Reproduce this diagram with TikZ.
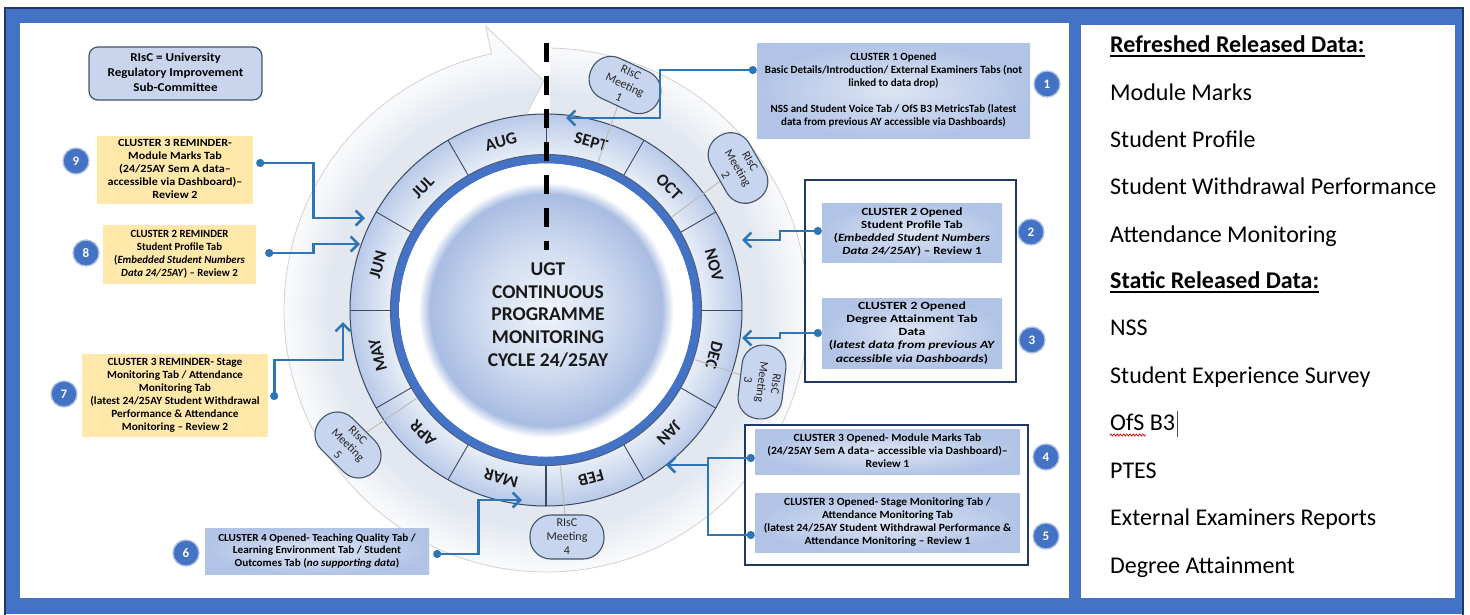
\documentclass[tikz,border=0pt]{standalone}
\usepackage{fontspec}
\setmainfont{Carlito}
\usepackage{graphicx}
\usetikzlibrary{arrows.meta,calc,decorations.pathmorphing}

\definecolor{frameblue}{HTML}{4472C4}
\definecolor{navy}{HTML}{203864}
\definecolor{connblue}{HTML}{2E75B6}
\definecolor{legfill}{HTML}{C9D5EC}
\definecolor{legdraw}{HTML}{44546A}
\definecolor{yel}{HTML}{FFE8AA}
\definecolor{boxin}{HTML}{DDE5F4}
\definecolor{boxout}{HTML}{B1C4E6}
\definecolor{pillfill}{HTML}{C8D5EE}
\definecolor{framenavy}{HTML}{1F3864}
\definecolor{bandA}{HTML}{E2E7F0}
\definecolor{bandB}{HTML}{F8F9FB}
\definecolor{ringA}{HTML}{EBF0F8}
\definecolor{ringB}{HTML}{B8C9E8}
\definecolor{discA}{HTML}{F1F4FA}
\definecolor{discM}{HTML}{D3DEF1}
\definecolor{discB}{HTML}{A9BDE2}
\definecolor{ringline}{HTML}{3B4A63}
\definecolor{mline}{HTML}{BDBDBD}

\pgfdeclareradialshading{bandsh}{\pgfpoint{0bp}{0bp}}{color(0bp)=(bandA); color(16.3bp)=(bandA); color(18bp)=(bandA); color(21.5bp)=(bandB); color(25bp)=(bandB); color(50bp)=(bandB)}
\pgfdeclareradialshading{ringsh}{\pgfpoint{0bp}{0bp}}{color(0bp)=(ringA); color(19.5bp)=(ringA); color(25bp)=(ringB); color(50bp)=(ringB)}
\pgfdeclareradialshading{discsh}{\pgfpoint{0bp}{0bp}}{color(0bp)=(discA); color(10bp)=(discM); color(19.8bp)=(discB); color(21.8bp)=(white); color(25bp)=(white); color(50bp)=(white)}

\newcommand\bt[2]{\scalebox{#1}[1]{\begin{tabular}{@{}c@{}}#2\end{tabular}}}

\begin{document}
\begin{tikzpicture}[x=1pt,y=1pt,
  lbox/.style={rounded corners=9, fill=legfill, draw=legdraw, line width=1.2, inner sep=0},
  ybox/.style={fill=yel, inner sep=0},
  bbox/.style={shade, inner color=boxin, outer color=boxout, inner sep=0},
  framebox/.style={draw=framenavy, line width=2.8, fill=white, inner sep=0},
  num/.style={circle, fill=frameblue, draw=white!55!frameblue, line width=1.3, minimum size=26, inner sep=0, text=white, font=\fontsize{13}{13}\selectfont\bfseries},
  meet/.style={rounded corners=21, fill=pillfill, draw=legdraw, line width=1.1, minimum width=74, minimum height=44, inner sep=0, align=center, font=\fontsize{12}{14}\selectfont, text=black!85},
  month/.style={font=\fontsize{17}{17}\selectfont\bfseries, text=black!90, inner sep=0},
  conn/.style={draw=connblue, line width=2.6, {Circle[length=8,width=8]}-{Straight Barb[length=7.5,width=15]}},
  connd/.style={draw=connblue, line width=2.6, {Circle[length=8,width=8]}-},
  mln/.style={draw=mline, line width=1},
  rt/.style={anchor=base west, inner sep=0, font=\fontsize{24}{28}\selectfont}
]
\useasboundingbox (0,0) rectangle (1470,-614);
\fill[white] (0,0) rectangle (1470,-614);
\fill[frameblue] (5,-8) rectangle (1463,-614);
\draw[navy, line width=2.2] (5,-620) -- (5,-8) -- (1463,-8) -- (1463,-620);
\fill[white] (20,-23) rectangle (1069,-598);
\fill[white] (1081,-25) rectangle (1455,-598);

% ---------- wheel ----------
\coordinate (C) at (546,-310);
\begin{scope}[shift={(546,-310)}]
  \begin{scope}
    \clip (89:262) arc[start angle=89,end angle=-258,radius=262] -- (102:290) -- (90.5:229) -- (102:170) -- (102:196) arc[start angle=-258,end angle=89,radius=196] -- cycle;
    \shade[shading=bandsh] (0,0) circle[radius=300];
  \end{scope}
  \draw[gray!35, line width=0.8] (89:262) arc[start angle=89,end angle=-258,radius=262] -- (102:290) -- (90.5:229) -- (102:170);
  \shade[shading=ringsh] (0,0) circle[radius=196];
  \foreach \a in {0,30,...,330} \draw[ringline, line width=0.9] (\a:155) -- (\a:196);
  \draw[ringline, line width=2] (-90:155) -- (-90:196);
  \draw[ringline, line width=1] (0,0) circle[radius=196];
  \draw[frameblue, line width=9] (0,0) circle[radius=151];
  \draw[navy!80, line width=1] (0,0) circle[radius=155.5];
  \shade[shading=discsh] (0,0) circle[radius=146.5];
  \foreach \m/\a in {SEPT/75, OCT/45, NOV/15, DEC/-15, JAN/-45, FEB/-75, MAR/-105, APR/-135, MAY/-165, JUN/165, JUL/135, AUG/105}
    \node[month, rotate=\a-90] (mon-\m) at (\a:174) {\m};
\end{scope}
\draw[black, line width=5, dash pattern=on 19 off 14] (546,-43) -- (546,-250);

\node[font=\fontsize{19.5}{22.8}\selectfont\bfseries, text=black!90, align=center] (title) at (548,-315) {UGT\\CONTINUOUS\\PROGRAMME\\MONITORING\\CYCLE 24/25AY};

% ---------- RIsC meetings ----------
\coordinate (mc1) at (625,-85);
\coordinate (mc2) at (738,-168);
\coordinate (mc3) at (762,-382);
\coordinate (mc4) at (567,-537);
\coordinate (mc5) at (348,-445);
\foreach \i in {1,...,5} \draw[mln] (mc\i) -- ($(C)!157pt!(mc\i)$);
\node[meet, rotate=-25] (m1) at (mc1) {RIsC\\Meeting\\1};
\node[meet, rotate=-60] (m2) at (mc2) {RIsC\\Meeting\\2};
\node[meet, rotate=-97] (m3) at (mc3) {RIsC\\Meeting\\3};
\node[meet] (m4) at (mc4) {RIsC\\Meeting\\4};
\node[meet, rotate=-45] (m5) at (mc5) {RIsC\\Meeting\\5};

% ---------- legend and left boxes ----------
\node[lbox, minimum width=173, minimum height=53, font=\fontsize{12}{15}\selectfont\bfseries] (leg) at (175.5,-73.5) {\bt{1.09}{RIsC = University\\Regulatory Improvement\\Sub-Committee}};

\node[ybox, minimum width=156, minimum height=68, font=\fontsize{11}{13}\selectfont\bfseries] (b9) at (175,-170) {\bt{1.1}{CLUSTER 3 REMINDER-\\Module Marks Tab\\(24/25AY Sem A data–\\accessible via Dashboard)–\\Review 2}};

\node[ybox, minimum width=153, minimum height=59, font=\fontsize{11}{12.7}\selectfont\bfseries] (b8) at (179.5,-254.5) {\bt{0.98}{CLUSTER 2 REMINDER\\Student Profile Tab\\(\textit{Embedded Student Numbers}\\\textit{Data 24/25AY}) – Review 2}};

\node[ybox, minimum width=186, minimum height=83, font=\fontsize{11}{13}\selectfont\bfseries] (b7) at (175,-395.5) {\bt{1.03}{CLUSTER 3 REMINDER- Stage\\Monitoring Tab / Attendance\\Monitoring Tab\\(latest 24/25AY Student Withdrawal\\Performance \& Attendance\\Monitoring – Review 2}};

\node[bbox, minimum width=224, minimum height=46, font=\fontsize{10.8}{12.5}\selectfont\bfseries] (b6) at (317,-551) {\bt{1.04}{CLUSTER 4 Opened- Teaching Quality Tab /\\Learning Environment Tab / Student\\Outcomes Tab (\textit{no supporting data})}};

% ---------- right boxes ----------
\node[bbox, minimum width=273, minimum height=95, font=\fontsize{11}{13}\selectfont\bfseries] (b1) at (893.5,-90.5) {\bt{1.0}{CLUSTER 1 Opened\\Basic Details/Introduction/ External Examiners Tabs (not\\linked to data drop)\\ \\NSS and Student Voice Tab / OfS B3 MetricsTab (latest\\data from previous AY accessible via Dashboards)}};

\node[framebox, minimum width=211, minimum height=202] (fa) at (910.5,-281) {};
\node[bbox, minimum width=180, minimum height=59, font=\fontsize{11}{13}\selectfont\bfseries] (b2) at (912,-232.5) {\bt{1.17}{CLUSTER 2 Opened\\Student Profile Tab\\(\textit{Embedded Student Numbers}\\\textit{Data 24/25AY}) – Review 1}};
\node[bbox, minimum width=180, minimum height=70, font=\fontsize{11}{13.2}\selectfont\bfseries] (b3) at (912,-333) {\bt{1.25}{CLUSTER 2 Opened\\Degree Attainment Tab\\Data\\(\textit{latest data from previous AY}\\\textit{accessible via Dashboards})}};

\node[framebox, minimum width=283, minimum height=140] (fb) at (886.5,-495) {};
\node[bbox, minimum width=265, minimum height=45, font=\fontsize{11}{13}\selectfont\bfseries] (b4) at (887.5,-451.5) {\bt{1.06}{CLUSTER 3 Opened- Module Marks Tab\\(24/25AY Sem A data– accessible via Dashboard)–\\Review 1}};
\node[bbox, minimum width=265, minimum height=59, font=\fontsize{11}{12.8}\selectfont\bfseries] (b5) at (887.5,-522.5) {\bt{1.05}{CLUSTER 3 Opened- Stage Monitoring Tab /\\Attendance Monitoring Tab\\(latest 24/25AY Student Withdrawal Performance \&\\Attendance Monitoring – Review 1}};

% ---------- numbers ----------
\node[num] (n1) at (1047,-84) {1};
\node[num] (n2) at (1031,-232) {2};
\node[num] (n3) at (1032,-340) {3};
\node[num] (n4) at (1046,-457) {4};
\node[num] (n5) at (1046,-536) {5};
\node[num] (n6) at (186,-553) {6};
\node[num] (n7) at (64,-394) {7};
\node[num] (n8) at (86,-253) {8};
\node[num] (n9) at (76,-161) {9};

% ---------- connectors ----------
\coordinate (t1) at (566,-118);
\coordinate (t2) at (742,-240);
\coordinate (t3) at (742,-338);
\coordinate (j45) at (708,-465);
\coordinate (t45) at (666,-465);
\coordinate (t6) at (522,-500);
\coordinate (j7) at (343,-360);
\coordinate (t7) at (343,-322);
\coordinate (t8) at (360,-244);
\coordinate (t9) at (365,-218);

\draw[conn] ([yshift=20.5]b1.west) -- ++(-97,0) |- (t1);
\draw[conn] ([yshift=1.5]b2.west) -- ++(-42,0) |- (t2);
\draw[conn] (b3.west) -- ++(-42,0) |- (t3);
\draw[connd] ([yshift=-6.5]b4.west) -| (j45);
\draw[conn] ([yshift=-12.5]b5.west) -| (j45) -- (t45);
\draw[conn] ([xshift=4,yshift=-3]b6.east) -- ++(45,0) |- (t6);
\draw[conn] ([xshift=6,yshift=-4.5]b7.east) |- (j7) -- (t7);
\draw[conn] ([xshift=9,yshift=1.5]b8.east) -- ++(48,0) |- (t8);
\draw[conn] ([xshift=3,yshift=7]b9.east) -- ++(57,0) |- (t9);

% ---------- right panel ----------
\node[rt, font=\fontsize{24}{28}\selectfont\bfseries] (r1) at (1110,-52) {Refreshed Released Data:};
\node[rt] (r2) at (1110,-100) {Module Marks};
\node[rt] (r3) at (1110,-147) {Student Profile};
\node[rt] (r4) at (1110,-194) {Student Withdrawal Performance};
\node[rt] (r5) at (1110,-242) {Attendance Monitoring};
\node[rt, font=\fontsize{24}{28}\selectfont\bfseries] (r6) at (1110,-288) {Static Released Data:};
\node[rt] (r7) at (1110,-335) {NSS};
\node[rt] (r8) at (1110,-383) {Student Experience Survey};
\node[rt] (r9) at (1110,-430) {OfS B3};
\node[rt] (r10) at (1110,-478) {PTES};
\node[rt] (r11) at (1110,-525) {External Examiners Reports};
\node[rt] (r12) at (1110,-573) {Degree Attainment};
\draw[line width=1.8] ([yshift=-4]r1.base west) -- ([yshift=-4]r1.base east);
\draw[line width=1.8] ([yshift=-4]r6.base west) -- ([yshift=-4]r6.base east);
\draw[red!85!black, line width=0.7, decorate, decoration={zigzag, segment length=3.2, amplitude=1.1}] ([yshift=-5]r9.base west) -- ++(36,0);
\draw[black!70, line width=1] ([xshift=2,yshift=-7]r9.base east) -- ([xshift=2,yshift=19]r9.base east);
\end{tikzpicture}
\end{document}
